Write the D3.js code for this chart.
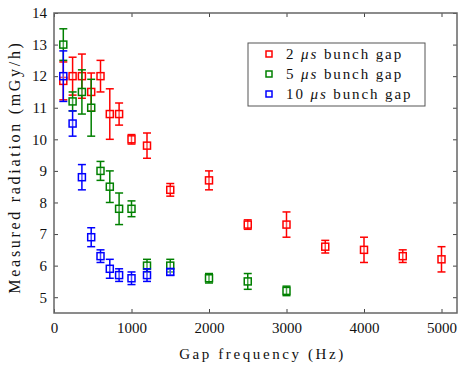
<!DOCTYPE html>
<html>
<head>
    <title>Measured radiation vs gap frequency</title>
    <script src="https://d3js.org/d3.v7.min.js"></script>
    <style>
        body { margin: 0; background: #fff; }
        svg text { font-family: "Liberation Serif", "Times New Roman", "DejaVu Serif", serif; }
    </style>
</head>
<body>
    <div id="chart"></div>

    <script>
        // Gap frequencies (Hz)
        const freqLow = [120, 240, 360, 480, 600, 720, 840, 1000, 1200, 1500];
        const freqRed = [120, 240, 360, 480, 600, 720, 840, 1000, 1200, 1500, 2000, 2500, 3000, 3500, 4000, 4500, 5000];
        const freqGreen = [120, 240, 360, 480, 600, 720, 840, 1000, 1200, 1500, 2000, 2500, 3000];

        // 2 us bunch gap
        const redValues = [11.85, 12.0, 12.0, 11.5, 12.0, 10.8, 10.8, 10.0, 9.8, 8.4, 8.7, 7.3, 7.3, 6.6, 6.5, 6.3, 6.2];
        const redErrors = [0.6, 0.6, 0.7, 0.6, 0.5, 0.8, 0.35, 0.15, 0.4, 0.2, 0.3, 0.15, 0.4, 0.2, 0.4, 0.2, 0.4];

        // 5 us bunch gap
        const greenValues = [13.0, 11.2, 11.5, 11.0, 9.0, 8.5, 7.8, 7.8, 6.0, 6.0, 5.6, 5.5, 5.2];
        const greenErrors = [0.5, 0.3, 0.7, 0.9, 0.3, 0.5, 0.5, 0.25, 0.2, 0.2, 0.15, 0.25, 0.15];

        // 10 us bunch gap
        const blueValues = [12.0, 10.5, 8.8, 6.9, 6.3, 5.9, 5.7, 5.6, 5.7, 5.8];
        const blueErrors = [0.8, 0.4, 0.4, 0.3, 0.2, 0.3, 0.2, 0.2, 0.2, 0.1];

        const xTicks = [0, 1000, 2000, 3000, 4000, 5000];
        const yTicks = [5, 6, 7, 8, 9, 10, 11, 12, 13, 14];

        const seriesLabels = [["2 ", " bunch gap"], ["5 ", " bunch gap"], ["10 ", " bunch gap"]];
        const seriesColors = ["#ff0000", "#008000", "#0000ff"];

        const series = [
            { freq: freqRed, values: redValues, errors: redErrors },
            { freq: freqGreen, values: greenValues, errors: greenErrors },
            { freq: freqLow, values: blueValues, errors: blueErrors }
        ].map((s, i) => ({
            label: seriesLabels[i],
            color: seriesColors[i],
            points: s.freq.map((f, j) => ({ x: f, y: s.values[j], e: s.errors[j] }))
        }));

        const margin = { top: 13, right: 6, bottom: 52, left: 54 },
            width = 463 - margin.left - margin.right,
            height = 365 - margin.top - margin.bottom;

        const svg = d3.select("#chart")
            .append("svg")
            .attr("width", width + margin.left + margin.right)
            .attr("height", height + margin.top + margin.bottom)
            .append("g")
            .attr("transform", `translate(${margin.left},${margin.top})`);

        const x = d3.scaleLinear().domain([0, 5200]).range([0, width]);
        const y = d3.scaleLinear().domain([4.5, 14]).range([height, 0]);

        const serif = "'Liberation Serif', 'Times New Roman', serif";
        const axisColor = "#444";

        // Axes with ticks pointing inward
        const xAxis = svg.append("g")
            .attr("transform", `translate(0,${height})`)
            .call(d3.axisBottom(x).tickValues(xTicks).tickFormat(d3.format("d"))
                .tickSizeInner(-4).tickSizeOuter(0).tickPadding(9));
        const yAxis = svg.append("g")
            .call(d3.axisLeft(y).tickValues(yTicks).tickSizeInner(-4).tickSizeOuter(0).tickPadding(7));
        const xTop = svg.append("g")
            .call(d3.axisTop(x).tickValues(xTicks).tickSizeInner(-4).tickSizeOuter(0).tickFormat(""));
        const yRight = svg.append("g")
            .attr("transform", `translate(${width},0)`)
            .call(d3.axisRight(y).tickValues(yTicks).tickSizeInner(-4).tickSizeOuter(0).tickFormat(""));

        [xAxis, yAxis, xTop, yRight].forEach(a => {
            a.attr("font-family", serif);
            a.select(".domain").remove();
            a.selectAll("line").attr("stroke", axisColor);
            a.selectAll("text").attr("fill", "#111").attr("font-size", 15).attr("font-family", serif);
        });

        svg.append("rect")
            .attr("width", width)
            .attr("height", height)
            .attr("fill", "none")
            .attr("stroke", "#666")
            .attr("stroke-width", 1.5);

        // Error bars and markers
        const cap = 4, half = 3.5;
        series.forEach(s => {
            const g = svg.append("g").attr("stroke", s.color).attr("fill", "none").attr("stroke-width", 1.5);
            s.points.forEach(p => {
                const cx = x(p.x);
                g.append("line").attr("x1", cx).attr("x2", cx).attr("y1", y(p.y - p.e)).attr("y2", y(p.y + p.e));
                g.append("line").attr("x1", cx - cap).attr("x2", cx + cap).attr("y1", y(p.y + p.e)).attr("y2", y(p.y + p.e));
                g.append("line").attr("x1", cx - cap).attr("x2", cx + cap).attr("y1", y(p.y - p.e)).attr("y2", y(p.y - p.e));
                g.append("rect").attr("x", cx - half).attr("y", y(p.y) - half)
                    .attr("width", half * 2).attr("height", half * 2)
                    .attr("fill", "#fff").attr("fill-opacity", 0.3);
            });
        });

        // Legend
        const legend = svg.append("g").attr("transform", `translate(${248 - margin.left},${43 - margin.top})`);
        legend.append("rect")
            .attr("width", 177).attr("height", 63)
            .attr("fill", "#fff").attr("stroke", "#555").attr("stroke-width", 1);
        series.forEach((s, i) => {
            const ly = 11 + i * 20;
            legend.append("rect")
                .attr("x", 18).attr("y", ly - 3).attr("width", 6).attr("height", 6)
                .attr("fill", "#fff").attr("stroke", s.color).attr("stroke-width", 1.5);
            const t = legend.append("text")
                .attr("x", 38).attr("y", ly + 5)
                .attr("font-family", serif)
                .attr("font-size", 15)
                .style("letter-spacing", "1.9px")
                .attr("fill", "#111");
            t.append("tspan").text(s.label[0]);
            t.append("tspan").attr("font-style", "italic").text("\u03bcs");
            t.append("tspan").text(s.label[1]);
        });

        // Axis titles
        svg.append("text")
            .attr("x", width / 2 + 7)
            .attr("y", height + 46)
            .attr("text-anchor", "middle")
            .attr("font-family", serif)
            .attr("font-size", 15)
            .attr("fill", "#111")
            .style("letter-spacing", "2.6px")
            .text("Gap frequency (Hz)");

        svg.append("text")
            .attr("transform", `translate(${-margin.left + 20},${height / 2 + 4}) rotate(-90)`)
            .attr("text-anchor", "middle")
            .attr("font-family", serif)
            .attr("font-size", 16)
            .attr("fill", "#111")
            .style("letter-spacing", "2.7px")
            .text("Measured radiation (mGy/h)");
    </script>
</body>
</html>
